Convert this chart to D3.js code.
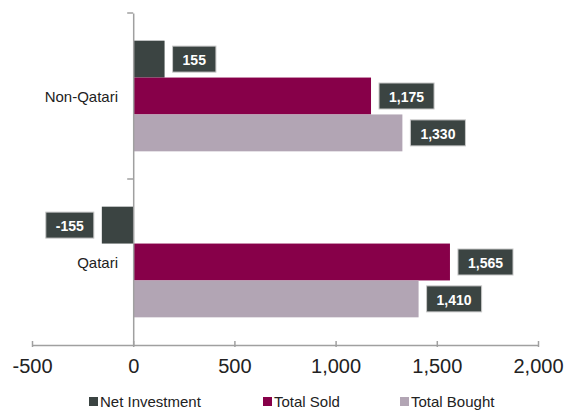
<!DOCTYPE html>
<html lang="en">
<head>
  <meta charset="utf-8">
  <title>Net Investment by Nationality</title>
  <style>
    body { margin: 0; background: #fff; }
    #chart text { font-family: "Liberation Sans", Arial, sans-serif; }
    .val text { fill: #fff; font-weight: bold; font-size: 14px; }
  </style>
</head>
<body>
  <div id="chart"></div>
  <script src="https://d3js.org/d3.v7.min.js"></script>
  <script>
    var categories = ["Non-Qatari", "Qatari"];
    var seriesNames = ["Net Investment", "Total Sold", "Total Bought"];
    var netInvestment = [155, -155];
    var totalSold = [1175, 1565];
    var totalBought = [1330, 1410];
    var xTicks = [-500, 0, 500, 1000, 1500, 2000];

    var colors = ["#3b4442", "#870049", "#b2a5b4"];
    var seriesValues = [netInvestment, totalSold, totalBought];

    var width = 580, height = 410;

    var svg = d3.select("#chart").append("svg")
      .attr("width", width)
      .attr("height", height);

    var x = d3.scaleLinear()
      .domain([-500, 2000])
      .range([32, 538]);

    var y = d3.scaleBand()
      .domain(categories)
      .range([13, 345]);

    var ySub = d3.scaleBand()
      .domain(seriesNames)
      .range([0, y.bandwidth()])
      .paddingOuter(0.75);

    // plain hyphen for negatives, like the original
    var fmt = d3.formatLocale({
      decimal: ".", thousands: ",", grouping: [3], currency: ["$", ""], minus: "-"
    }).format(",");

    // bars
    var rows = [];
    categories.forEach(function (c, i) {
      seriesNames.forEach(function (s, j) {
        rows.push({ cat: c, series: s, value: seriesValues[j][i], color: colors[j] });
      });
    });

    svg.append("g").selectAll("rect")
      .data(rows)
      .enter().append("rect")
      .attr("x", function (d) { return x(Math.min(0, d.value)); })
      .attr("y", function (d) { return y(d.cat) + ySub(d.series); })
      .attr("width", function (d) { return Math.abs(x(d.value) - x(0)); })
      .attr("height", ySub.bandwidth())
      .attr("fill", function (d) { return d.color; });

    // x axis
    var xAxis = svg.append("g")
      .attr("transform", "translate(0,345)")
      .call(d3.axisBottom(x).tickValues(xTicks).tickFormat(fmt).tickSizeInner(-5).tickSizeOuter(0).tickPadding(14));
    xAxis.select(".domain").attr("stroke", "#a0a0a0").attr("stroke-width", 1.5);
    xAxis.selectAll(".tick line").attr("stroke", "#a0a0a0").attr("stroke-width", 1.5).attr("y1", 2).attr("y2", -4);
    xAxis.selectAll(".tick text")
      .attr("font-size", "20px")
      .attr("fill", "#222")
      .style("font-family", "'Liberation Sans', Arial, sans-serif");

    // y axis at zero
    var yAxis = svg.append("g")
      .attr("transform", "translate(" + x(0) + ",0)")
      .call(d3.axisLeft(y).tickValues([]).tickSizeOuter(0));
    yAxis.select(".domain").attr("stroke", "#a0a0a0").attr("stroke-width", 1.5);
    var bounds = [13, y("Qatari")];
    yAxis.selectAll(".sep")
      .data(bounds)
      .enter().append("line")
      .attr("x1", -6).attr("x2", 0)
      .attr("y1", function (d) { return d; })
      .attr("y2", function (d) { return d; })
      .attr("stroke", "#a0a0a0").attr("stroke-width", 1.5);

    // category labels
    svg.append("g").selectAll("text")
      .data(categories)
      .enter().append("text")
      .attr("x", 118)
      .attr("y", function (d) { return y(d) + y.bandwidth() / 2; })
      .attr("text-anchor", "end")
      .attr("dominant-baseline", "central")
      .attr("font-size", "15px")
      .attr("fill", "#222")
      .text(function (d) { return d; });

    // value labels
    var vals = svg.append("g").attr("class", "val").selectAll("g")
      .data(rows)
      .enter().append("g");

    vals.each(function (d) {
      var g = d3.select(this);
      var t = g.append("text")
        .attr("dominant-baseline", "central")
        .text(fmt(d.value));
      var tw = t.node().getComputedTextLength();
      var bw = tw + 20, bh = 26;
      var cy = y(d.cat) + ySub(d.series) + ySub.bandwidth() / 2;
      var bx = d.value >= 0 ? x(d.value) + 8 : x(d.value) - 8 - bw;
      g.insert("rect", "text")
        .attr("x", bx).attr("y", cy - bh / 2)
        .attr("width", bw).attr("height", bh)
        .attr("fill", "#3b4442")
        .attr("stroke", "#c8c8c8")
        .attr("stroke-width", 1);
      t.attr("x", bx + bw / 2).attr("y", cy + 1).attr("text-anchor", "middle");
    });

    // legend
    var legendX = [89, 263, 400];
    var legend = svg.append("g").selectAll("g")
      .data(seriesNames)
      .enter().append("g")
      .attr("transform", function (d, i) { return "translate(" + legendX[i] + ",401)"; });
    legend.append("rect")
      .attr("x", 0).attr("y", -4)
      .attr("width", 9).attr("height", 9)
      .attr("fill", function (d, i) { return colors[i]; });
    legend.append("text")
      .attr("x", 11)
      .attr("y", 0)
      .attr("dominant-baseline", "central")
      .attr("font-size", "15px")
      .attr("fill", "#222")
      .text(function (d) { return d; });
  </script>
</body>
</html>
